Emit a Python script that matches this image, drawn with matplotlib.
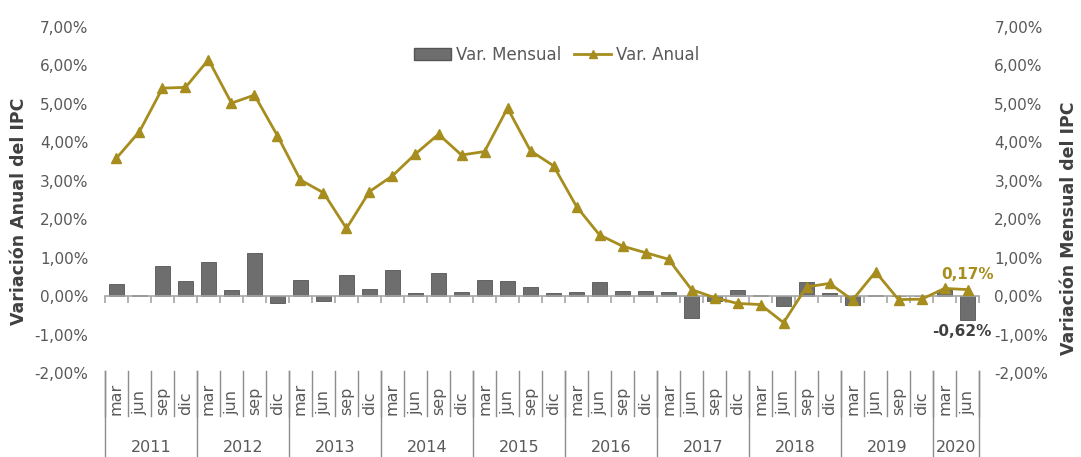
import matplotlib
matplotlib.use("Agg")
import matplotlib.pyplot as plt
from matplotlib.ticker import FuncFormatter, FixedLocator
from matplotlib.lines import Line2D
from matplotlib.patches import Patch

plt.rcParams['font.family'] = ['DejaVu Sans']

years = ['2011', '2012', '2013', '2014', '2015', '2016', '2017', '2018', '2019', '2020']
months = ['mar', 'jun', 'sep', 'dic']
months_per_year = [4, 4, 4, 4, 4, 4, 4, 4, 4, 2]

var_mensual = [0.32, 0.03, 0.78, 0.39, 0.89, 0.16, 1.11, -0.17,
               0.42, -0.13, 0.55, 0.19, 0.68, 0.09, 0.61, 0.10,
               0.41, 0.39, 0.24, 0.09, 0.12, 0.36, 0.14, 0.14,
               0.12, -0.58, -0.12, 0.16, 0.04, -0.26, 0.37, 0.09,
               -0.22, 0.02, 0.01, 0.01, 0.17, -0.62]
var_anual = [3.59, 4.28, 5.41, 5.43, 6.15, 5.02, 5.23, 4.17,
             3.02, 2.69, 1.76, 2.72, 3.13, 3.70, 4.21, 3.67,
             3.76, 4.89, 3.78, 3.39, 2.33, 1.59, 1.30, 1.13,
             0.96, 0.17, -0.04, -0.19, -0.22, -0.69, 0.24, 0.33,
             -0.10, 0.63, -0.09, -0.08, 0.20, 0.17]

month_labels = []
for y, n in zip(years, months_per_year):
    month_labels += months[:n]
x = list(range(len(month_labels)))

GOLD = '#A68D1E'
BAR = '#6f6e6e'
TXT = '#595959'

fig = plt.figure(figsize=(10.81, 4.57), dpi=100)
ax = fig.add_axes([0.0971, 0.1838, 0.8086, 0.7571])
ax.set_xlim(-0.5, len(x) - 0.5)
ax.set_ylim(-2, 7)

ax.bar(x, var_mensual, width=0.62, color=BAR, edgecolor='#555555', linewidth=0.6, zorder=2)
ax.plot(x, var_anual, color=GOLD, linewidth=2, marker='^', markersize=7, zorder=3)

for s in ['top', 'right', 'left']:
    ax.spines[s].set_visible(False)
ax.spines['bottom'].set_position(('data', 0))
ax.spines['bottom'].set_color('#a6a6a6')
ax.spines['bottom'].set_linewidth(1.2)
ax.xaxis.set_major_locator(FixedLocator([i - 0.5 for i in range(len(x) + 1)]))
ax.tick_params(axis='x', length=5, width=1.2, color='#a6a6a6', labelbottom=False)

fmt = FuncFormatter(lambda v, p: ('%.2f%%' % v).replace('.', ','))
ax.set_yticks(range(-2, 8))
ax.yaxis.set_major_formatter(fmt)
ax.tick_params(axis='y', length=0, labelsize=11, labelcolor=TXT, pad=12)

ax2 = ax.twinx()
ax2.set_ylim(-2, 7)
ax2.set_yticks(range(-2, 8))
ax2.yaxis.set_major_formatter(fmt)
ax2.tick_params(axis='y', length=0, labelsize=11, labelcolor=TXT, pad=11)
for s in ax2.spines.values():
    s.set_visible(False)

ax.set_ylabel('Variación Anual del IPC', fontsize=12.5, fontweight='bold', color='#404040')
ax2.set_ylabel('Variación Mensual del IPC', fontsize=12.5, fontweight='bold', color='#404040')
ax.yaxis.set_label_coords(-0.088, 0.468)
ax2.yaxis.set_label_coords(1.093, 0.419)

# multi-level category axis
tr = ax.get_xaxis_transform()
sep_col = '#8c8c8c'
for i, lab in enumerate(month_labels):
    ax.text(i, -0.122, lab, rotation=90, ha='center', va='bottom', fontsize=11.5,
            color=TXT, transform=tr, clip_on=False)
for i in range(len(x) + 1):
    ax.plot([i - 0.5, i - 0.5], [0.005, -0.124], color=sep_col, lw=1, transform=tr, clip_on=False)
start = 0
for y, n in zip(years, months_per_year):
    ax.plot([start - 0.5, start - 0.5], [0.005, -0.26], color=sep_col, lw=1, transform=tr, clip_on=False)
    ax.text(start + n / 2 - 0.5, -0.215, y, ha='center', va='center', fontsize=11.5,
            color=TXT, transform=tr, clip_on=False)
    start += n
ax.plot([start - 0.5, start - 0.5], [0.005, -0.26], color=sep_col, lw=1, transform=tr, clip_on=False)

# annotations
ax.annotate(('%.2f%%' % var_anual[-1]).replace('.', ','), (x[-1], var_anual[-1]),
            xytext=(0, 11), textcoords='offset points', ha='center', va='center',
            fontsize=11, fontweight='bold', color=GOLD)
ax.annotate(('%.2f%%' % var_mensual[-1]).replace('.', ','), (x[-1], var_mensual[-1]),
            xytext=(-4, -8), textcoords='offset points', ha='center', va='center',
            fontsize=11, fontweight='bold', color='#404040')

handles = [Patch(facecolor=BAR, edgecolor='#555555'),
           Line2D([], [], color=GOLD, lw=2, marker='^', markersize=6)]
fig.legend(handles, ['Var. Mensual', 'Var. Anual'], loc='center', bbox_to_anchor=(0.515, 0.88),
           ncol=2, frameon=False, fontsize=12, handlelength=2.2, handletextpad=0.3,
           columnspacing=0.8, labelcolor=TXT)

fig.savefig('out.png', dpi=100)
